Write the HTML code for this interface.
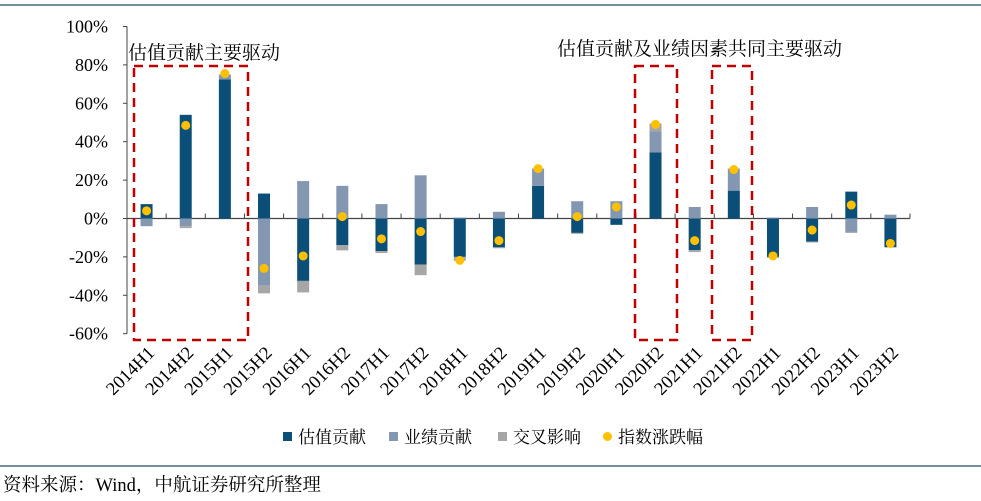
<!DOCTYPE html>
<html><head><meta charset="utf-8">
<style>
body{margin:0;background:#fff;}
svg text{font-family:"Liberation Serif","Noto Serif CJK SC","Noto Sans CJK SC",serif;}
</style></head>
<body>
<svg id="chart" width="981" height="496" xmlns="http://www.w3.org/2000/svg">
<line x1="0" y1="5" x2="981" y2="5" stroke="#1f4e6b" stroke-width="1.2"/>
<line x1="0" y1="466" x2="981" y2="466" stroke="#1f4e6b" stroke-width="1.2"/>
<g id="grid"></g>
<g id="bars"></g>
<g id="dots"></g>
<g id="ann"></g>
<g id="legend"></g>
<text x="3" y="491" font-size="18.5" fill="#000">资料来源：Wind，中航证券研究所整理</text>
</svg>
<script>
const categories=["2014H1","2014H2","2015H1","2015H2","2016H1","2016H2","2017H1","2017H2","2018H1","2018H2","2019H1","2019H2","2020H1","2020H2","2021H1","2021H2","2022H1","2022H2","2023H1","2023H2"];
const valuation=[7.5,54,72.5,13,-32.5,-13.8,-17,-24,-20,-15,17,-7.5,-3.3,34.5,-16.5,14.5,-20,-12,14,-15];
const earnings=[-4,-4,2.5,-35,19.5,17,7.5,22.5,0.5,3.5,9,9,9,11,6,11.5,0.5,6,-7,2];
const cross=[0,-1,0,-4,-6,-2.8,-1,-5.5,-2,-0.5,0,-0.5,0,4,-1,0,-0.5,-0.5,-0.5,0];
const indexChg=[4,48.5,75.5,-26,-19.5,1,-10.6,-6.8,-21.8,-11.5,26,1,6,49,-11.5,25.5,-19.5,-6,7,-13];
const yTicks=[100,80,60,40,20,0,-20,-40,-60];
const NS="http://www.w3.org/2000/svg";
const L=127,R=910,Y0=218.5,PX=1.92;
const step=(R-L)/categories.length;
function x(i){return L+step*(i+0.5);}
function y(v){return Y0-v*PX;}
function mk(tag,attrs,parent){const e=document.createElementNS(NS,tag);for(const k in attrs)e.setAttribute(k,attrs[k]);parent.appendChild(e);return e;}
const g=document.getElementById('grid');
const ax=mk('line',{x1:L,y1:y(100),x2:L,y2:y(-60),stroke:'#444','stroke-width':1},g);


yTicks.forEach(v=>{
 mk('line',{x1:L-4,y1:y(v),x2:L,y2:y(v),stroke:'#444'},g);
 const t=mk('text',{x:108,y:y(v)+6,'text-anchor':'end','font-size':18,fill:'#000'},g);
 t.textContent=v+'%';
 
 
});
const xa=mk('line',{x1:L,y1:Y0,x2:R,y2:Y0,stroke:'#444','stroke-width':1.2},g);


categories.forEach((c,i)=>{
 mk('line',{x1:L+step*(i+1),y1:Y0-5,x2:L+step*(i+1),y2:Y0,stroke:'#444'},g);
 const t=mk('text',{x:0,y:0,'text-anchor':'end','font-size':18.5,fill:'#000',transform:`translate(${x(i)+9},${354}) rotate(-45)`},g);
 t.textContent=c;
 
 
});
const bg=document.getElementById('bars');
const series=[[valuation,'#0b4f78','valuation'],[earnings,'#8497b0','earnings'],[cross,'#a6a6a6','cross']];
const BW=12;
categories.forEach((c,i)=>{
 let pos=0,neg=0;
 series.forEach(([arr,col,nm])=>{
  const v=arr[i]; if(!v)return;
  let a,b;
  if(v>0){a=pos;b=pos+v;pos=b;}else{a=neg;b=neg+v;neg=b;}
  const r=mk('rect',{x:x(i)-BW/2,y:Math.min(y(a),y(b)),width:BW,height:Math.abs(y(a)-y(b)),fill:col},bg);
  
  
 });
});
const dg=document.getElementById('dots');
indexChg.forEach((v,i)=>{
 const d=mk('circle',{cx:x(i),cy:y(v),r:4.5,fill:'#ffc000'},dg);
 
 
});
const an=document.getElementById('ann');
[[134,66,248,340],[635,66,677,340],[712,66,752,340]].forEach((b,k)=>{
 const r=mk('rect',{x:b[0],y:b[1],width:b[2]-b[0],height:b[3]-b[1],fill:'none',stroke:'#c00000','stroke-width':2.5,'stroke-dasharray':'9,6'},an);
 
 
});
let t1=mk('text',{x:128,y:59,'font-size':19,fill:'#000'},an);t1.textContent='估值贡献主要驱动';


let t2=mk('text',{x:557,y:55,'font-size':19,fill:'#000'},an);t2.textContent='估值贡献及业绩因素共同主要驱动';


const lg=document.getElementById('legend');
const legendItems=[['估值贡献','#0b4f78',283,'sq'],['业绩贡献','#8497b0',389,'sq'],['交叉影响','#a6a6a6',498,'sq'],['指数涨跌幅','#ffc000',603,'dot']];
legendItems.forEach(([lab,col,lx,s])=>{
 const gi=mk('g',{},lg);
 
 
 if(s==='sq')mk('rect',{x:lx,y:432,width:9,height:9,fill:col},gi);
 else mk('circle',{cx:lx+4.5,cy:436.5,r:4.5,fill:col},gi);
 const t=mk('text',{x:lx+15,y:443,'font-size':17,fill:'#000'},gi);t.textContent=lab;
});
</script>
</body></html>
